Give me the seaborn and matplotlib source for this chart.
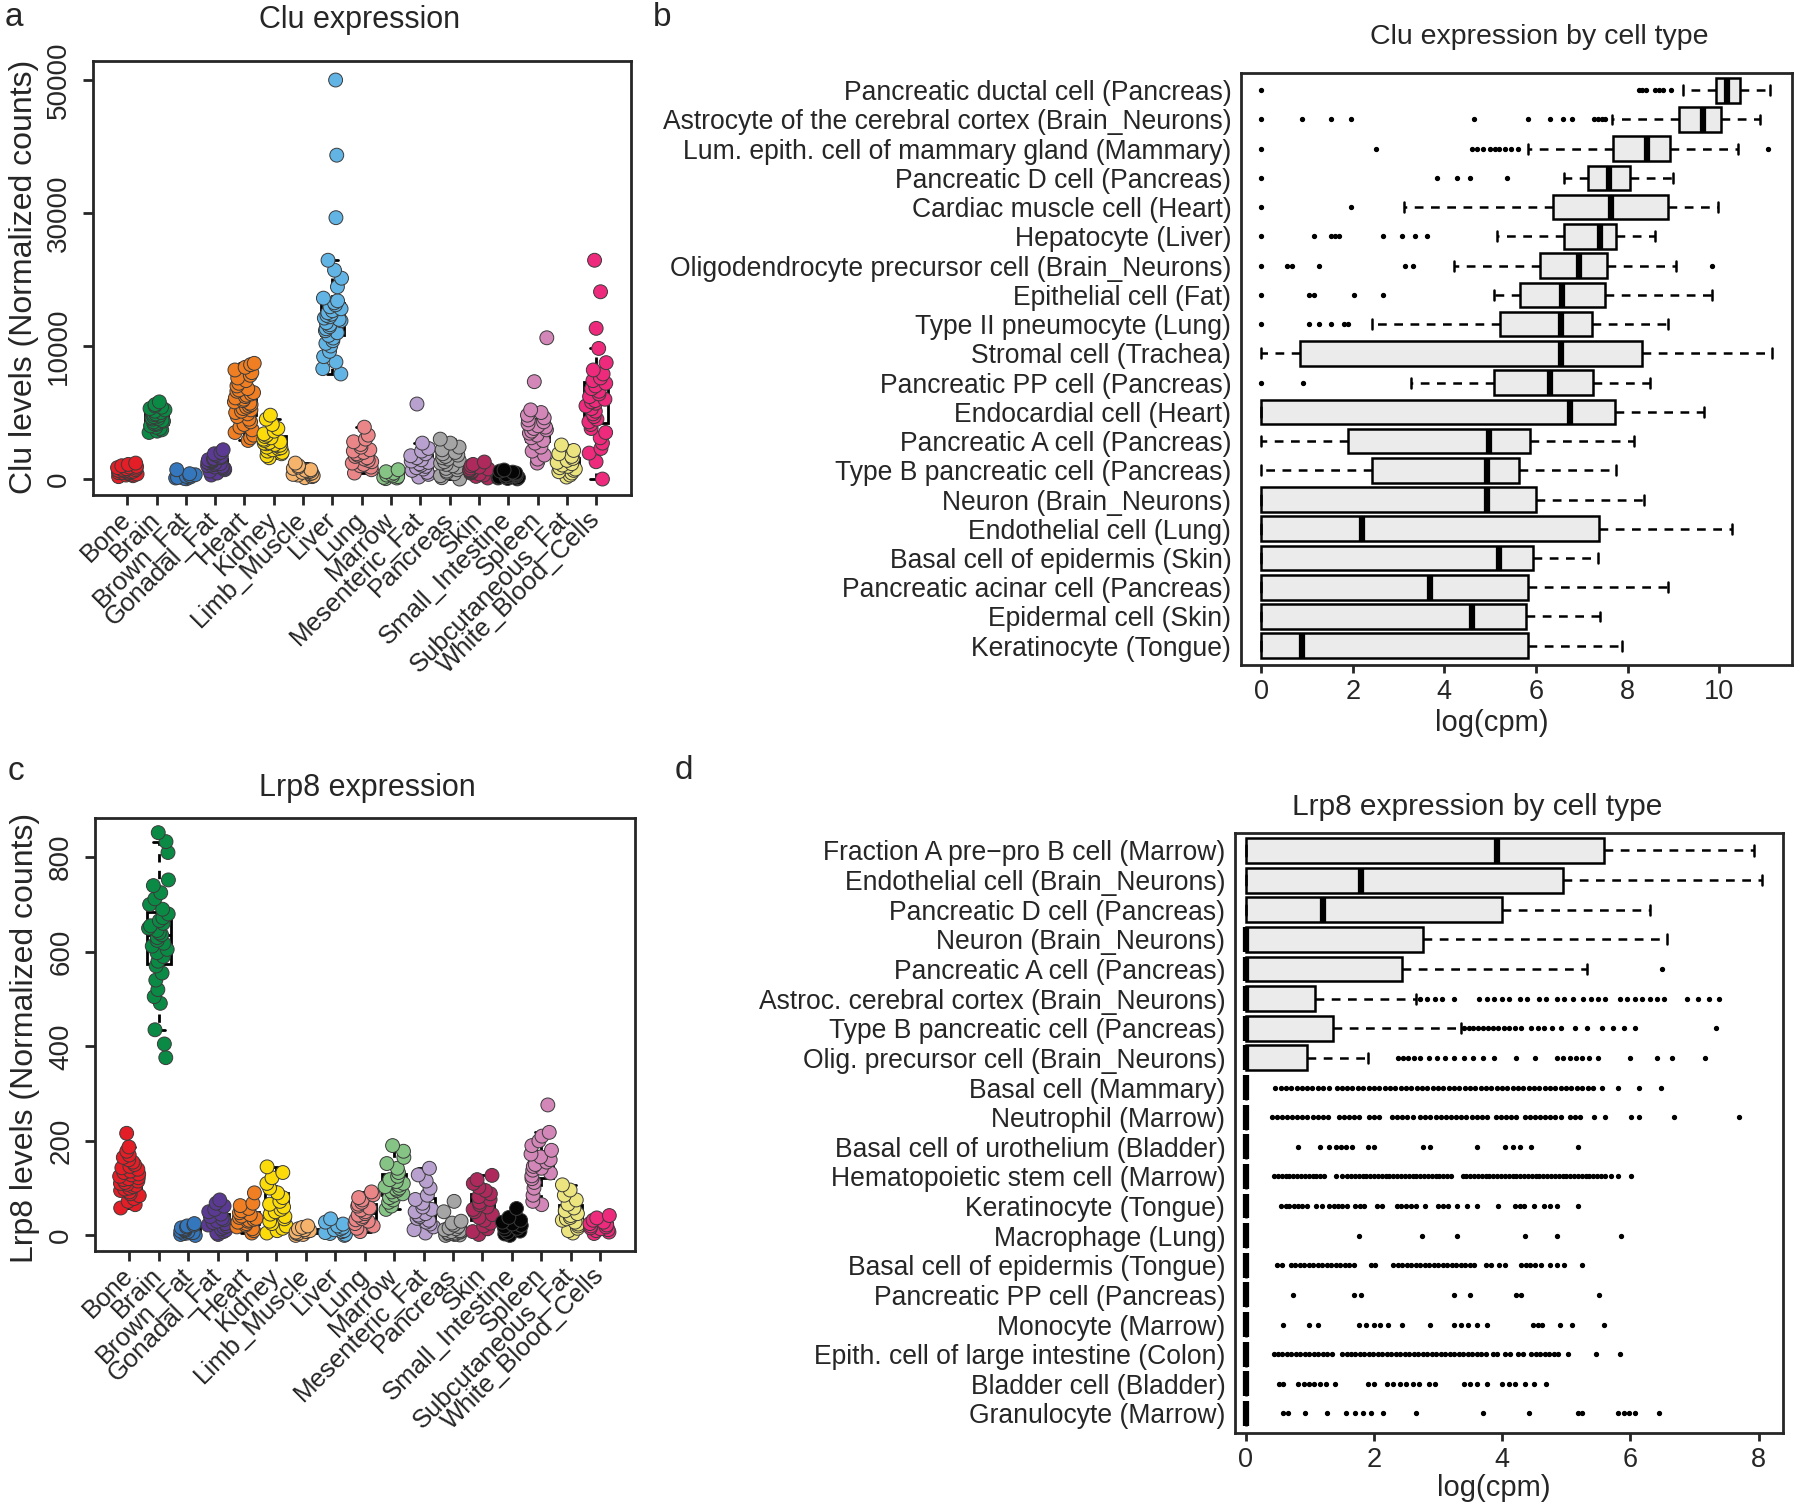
import numpy as np
import pandas as pd
import matplotlib
matplotlib.use("Agg")
import matplotlib.pyplot as plt
import seaborn as sns

# ---- panel a / c : expression by tissue ----
tissues = ["Bone", "Brain", "Brown_Fat", "Gonadal_Fat", "Heart", "Kidney", "Limb_Muscle",
           "Liver", "Lung", "Marrow", "Mesenteric_Fat", "Pancreas", "Skin",
           "Small_Intestine", "Spleen", "Subcutaneous_Fat", "White_Blood_Cells"]
tissue_colors = ["#E41E26", "#0B8A45", "#3477BD", "#5B3A93", "#F07E22", "#FCDB0B", "#F6B36C",
                 "#62B4E4", "#EA8688", "#86C485", "#B8A1CE", "#A5A5A5", "#AE2A5C",
                 "#050505", "#D386B8", "#ECE47E", "#EE2A7C"]

clu_bone = [180, 250, 300, 350, 380, 420, 450, 480, 500, 530, 560, 590, 620, 650, 680, 700, 740, 780, 820, 860, 900, 950, 1000, 1100, 1200]
clu_brain = [3500, 3600, 3700, 3800, 3900, 4000, 4100, 4150, 4200, 4300, 4350, 4400, 4500, 4550, 4600, 4650, 4700, 4800, 4850, 4900, 5000, 5100, 5200, 5300, 5400, 5500, 5600, 5800]
clu_brown_fat = [20, 50, 80, 120, 150, 200, 250, 320, 400, 700]
clu_gonadal_fat = [300, 450, 600, 700, 800, 850, 900, 950, 1000, 1050, 1100, 1150, 1200, 1250, 1300, 1350, 1400, 1450, 1500, 1550, 1600, 1700, 1800, 1900, 2000, 2200]
clu_heart = [2900, 3100, 3300, 3500, 3700, 3900, 4100, 4300, 4500, 4700, 4900, 5000, 5100, 5200, 5300, 5400, 5500, 5600, 5700, 5800, 5900, 6000, 6100, 6200, 6300, 6400, 6500, 6600, 6700, 6800, 7000, 7200, 7400, 7600, 7800, 8000, 8200, 8400, 8600, 8700]
clu_kidney = [1600, 1750, 1900, 2000, 2100, 2200, 2300, 2350, 2400, 2500, 2550, 2600, 2650, 2700, 2750, 2800, 2900, 3000, 3100, 3200, 3300, 3400, 3600, 3800, 4100, 4500, 4800]
clu_limb_muscle = [100, 180, 250, 300, 350, 400, 450, 500, 550, 600, 650, 700, 800, 900, 1000, 1200]
clu_liver = [7900, 8300, 8800, 9200, 9600, 10000, 10400, 10800, 11200, 11600, 12000, 12300, 12600, 12900, 13200, 13500, 13800, 14000, 14200, 14400, 14600, 14800, 15000, 15300, 15600, 15900, 16200, 16500, 16800, 17200, 18900, 20200, 21400, 22900, 29300, 38700, 50000]
clu_lung = [450, 700, 900, 1000, 1100, 1200, 1300, 1400, 1500, 1600, 1700, 1800, 1900, 2000, 2100, 2200, 2400, 2600, 2800, 3000, 3300, 3900]
clu_marrow = [30, 80, 120, 180, 240, 300, 360, 450, 550, 700]
clu_mesenteric_fat = [150, 350, 500, 650, 750, 850, 950, 1050, 1150, 1250, 1350, 1450, 1600, 1750, 1900, 2100, 2300, 2700, 5640]
clu_pancreas = [0, 100, 250, 400, 500, 600, 700, 800, 900, 1000, 1100, 1200, 1300, 1400, 1500, 1600, 1700, 1800, 1900, 2000, 2200, 2400, 2700, 3000]
clu_skin = [80, 200, 300, 380, 450, 500, 550, 600, 650, 700, 760, 820, 900, 1000, 1100, 1280]
clu_small_intestine = [10, 40, 80, 110, 140, 170, 200, 230, 260, 290, 320, 360, 400, 450, 520, 600, 680]
clu_spleen = [1200, 1500, 1800, 2100, 2400, 2700, 2900, 3100, 3300, 3450, 3600, 3700, 3800, 3900, 4000, 4150, 4300, 4450, 4600, 4800, 5000, 5200, 7320, 11240]
clu_subcutaneous_fat = [150, 300, 450, 550, 650, 750, 850, 950, 1050, 1150, 1250, 1400, 1550, 1700, 1900, 2150, 2560]
clu_wbc = [0, 1300, 1950, 2300, 2700, 3100, 3500, 3800, 4100, 4300, 4500, 4700, 4900, 5100, 5300, 5500, 5700, 5800, 5900, 6000, 6200, 6400, 6600, 6800, 7000, 7200, 7400, 7600, 7900, 8200, 8750, 9820, 12660, 18160, 22900]

lrp8_bone = [58, 65, 72, 78, 84, 88, 92, 95, 98, 100, 103, 106, 108, 110, 112, 115, 118, 120, 122, 125, 128, 130, 133, 136, 140, 143, 146, 150, 155, 160, 165, 170, 178, 187, 216]
lrp8_brain = [376, 405, 435, 491, 505, 520, 540, 555, 570, 580, 590, 598, 605, 612, 618, 624, 630, 636, 640, 645, 650, 655, 660, 666, 672, 680, 690, 700, 712, 725, 740, 752, 810, 833, 852]
lrp8_brown_fat = [0, 2, 4, 5, 6, 8, 9, 10, 12, 14, 16, 18, 20, 22, 25]
lrp8_gonadal_fat = [2, 5, 8, 11, 14, 17, 20, 22, 25, 27, 30, 33, 36, 40, 45, 50, 55, 62, 68, 75]
lrp8_heart = [5, 10, 14, 18, 22, 25, 28, 30, 32, 34, 36, 38, 41, 44, 48, 52, 57, 63, 68, 90]
lrp8_kidney = [5, 10, 15, 20, 25, 30, 35, 40, 45, 50, 55, 60, 66, 72, 80, 90, 100, 110, 122, 133, 145]
lrp8_limb_muscle = [0, 2, 4, 5, 7, 8, 10, 12, 14, 17, 20]
lrp8_liver = [0, 2, 4, 6, 8, 10, 12, 14, 17, 20, 24, 28, 35]
lrp8_lung = [8, 15, 20, 25, 30, 33, 36, 40, 43, 46, 50, 54, 58, 62, 66, 70, 75, 80, 86, 92]
lrp8_marrow = [55, 62, 70, 75, 80, 85, 88, 92, 95, 98, 100, 103, 106, 110, 114, 118, 125, 133, 142, 152, 165, 178, 190]
lrp8_mesenteric_fat = [5, 12, 18, 24, 28, 32, 36, 40, 43, 46, 50, 55, 60, 68, 76, 85, 100, 115, 128, 142]
lrp8_pancreas = [0, 1, 2, 3, 4, 5, 6, 7, 8, 9, 10, 12, 14, 16, 19, 22, 26, 30, 50, 72]
lrp8_skin = [2, 8, 14, 20, 26, 32, 38, 44, 50, 55, 60, 65, 70, 76, 82, 88, 95, 102, 110, 118, 127]
lrp8_small_intestine = [0, 3, 6, 9, 12, 15, 18, 21, 24, 28, 32, 38, 57]
lrp8_spleen = [65, 72, 85, 100, 112, 120, 126, 132, 138, 142, 146, 150, 155, 160, 166, 172, 180, 190, 200, 210, 218, 276]
lrp8_subcutaneous_fat = [5, 10, 15, 20, 24, 28, 32, 35, 38, 42, 46, 52, 58, 66, 75, 85, 96, 107]
lrp8_wbc = [4, 7, 10, 12, 14, 16, 18, 20, 22, 25, 28, 32, 37, 42]

clu_by_tissue = [clu_bone, clu_brain, clu_brown_fat, clu_gonadal_fat, clu_heart, clu_kidney,
                 clu_limb_muscle, clu_liver, clu_lung, clu_marrow, clu_mesenteric_fat, clu_pancreas,
                 clu_skin, clu_small_intestine, clu_spleen, clu_subcutaneous_fat, clu_wbc]
lrp8_by_tissue = [lrp8_bone, lrp8_brain, lrp8_brown_fat, lrp8_gonadal_fat, lrp8_heart, lrp8_kidney,
                  lrp8_limb_muscle, lrp8_liver, lrp8_lung, lrp8_marrow, lrp8_mesenteric_fat, lrp8_pancreas,
                  lrp8_skin, lrp8_small_intestine, lrp8_spleen, lrp8_subcutaneous_fat, lrp8_wbc]

# ---- panel b : Clu by cell type (log cpm box summaries) ----
clu_cells = ["Pancreatic ductal cell (Pancreas)", "Astrocyte of the cerebral cortex (Brain_Neurons)",
             "Lum. epith. cell of mammary gland (Mammary)", "Pancreatic D cell (Pancreas)",
             "Cardiac muscle cell (Heart)", "Hepatocyte (Liver)",
             "Oligodendrocyte precursor cell (Brain_Neurons)", "Epithelial cell (Fat)",
             "Type II pneumocyte (Lung)", "Stromal cell (Trachea)", "Pancreatic PP cell (Pancreas)",
             "Endocardial cell (Heart)", "Pancreatic A cell (Pancreas)",
             "Type B pancreatic cell (Pancreas)", "Neuron (Brain_Neurons)", "Endothelial cell (Lung)",
             "Basal cell of epidermis (Skin)", "Pancreatic acinar cell (Pancreas)",
             "Epidermal cell (Skin)", "Keratinocyte (Tongue)"]
clu_whislo = [9.2, 7.67, 5.82, 6.62, 3.12, 5.14, 4.2, 5.09, 2.42, 0, 3.28, 0, 0, 0, 0, 0, 0, 0, 0, 0]
clu_q1 = [9.94, 9.13, 7.69, 7.14, 6.38, 6.62, 6.09, 5.65, 5.22, 0.84, 5.09, 0, 1.9, 2.42, 0, 0, 0, 0, 0, 0]
clu_med = [10.18, 9.64, 8.43, 7.59, 7.63, 7.4, 6.95, 6.56, 6.54, 6.54, 6.3, 6.74, 4.98, 4.93, 4.93, 2.2, 5.2, 3.68, 4.6, 0.89]
clu_q3 = [10.45, 10.05, 8.93, 8.05, 8.89, 7.75, 7.56, 7.51, 7.22, 8.32, 7.24, 7.72, 5.86, 5.62, 6.01, 7.38, 5.93, 5.82, 5.78, 5.82]
clu_whishi = [11.1, 10.9, 10.42, 9.0, 9.98, 8.6, 9.05, 9.85, 8.89, 11.15, 8.48, 9.66, 8.13, 7.75, 8.35, 10.27, 7.35, 8.89, 7.4, 7.87]
clu_outliers = [
    [0, 8.25, 8.32, 8.4, 8.6, 8.68, 8.78, 8.95],
    [0, 0.89, 1.53, 1.97, 4.64, 5.82, 6.3, 6.6, 6.79, 7.27, 7.35, 7.45, 7.51],
    [0, 2.5, 4.6, 4.72, 4.85, 5.0, 5.1, 5.2, 5.32, 5.45, 5.6, 11.07],
    [0, 3.83, 4.28, 4.56, 5.36],
    [0, 1.97],
    [0, 1.16, 1.53, 1.62, 1.7, 2.67, 3.07, 3.36, 3.63],
    [0, 0.57, 0.68, 1.26, 3.15, 3.31, 9.85],
    [0, 1.05, 1.16, 2.02, 2.67],
    [0, 1.05, 1.26, 1.53, 1.8, 1.9],
    [], [0, 0.92], [], [], [], [], [], [], [], [], [],
]

# ---- panel d : Lrp8 by cell type ----
lrp8_cells = ["Fraction A pre\u2212pro B cell (Marrow)", "Endothelial cell (Brain_Neurons)",
              "Pancreatic D cell (Pancreas)", "Neuron (Brain_Neurons)", "Pancreatic A cell (Pancreas)",
              "Astroc. cerebral cortex (Brain_Neurons)", "Type B pancreatic cell (Pancreas)",
              "Olig. precursor cell (Brain_Neurons)", "Basal cell (Mammary)", "Neutrophil (Marrow)",
              "Basal cell of urothelium (Bladder)", "Hematopoietic stem cell (Marrow)",
              "Keratinocyte (Tongue)", "Macrophage (Lung)", "Basal cell of epidermis (Tongue)",
              "Pancreatic PP cell (Pancreas)", "Monocyte (Marrow)",
              "Epith. cell of large intestine (Colon)", "Bladder cell (Bladder)", "Granulocyte (Marrow)"]
lrp8_whislo = [0] * 20
lrp8_q1 = [0] * 20
lrp8_med = [3.91, 1.79, 1.21, 0, 0, 0, 0, 0, 0, 0, 0, 0, 0, 0, 0, 0, 0, 0, 0, 0]
lrp8_q3 = [5.58, 4.95, 4.0, 2.77, 2.43, 1.08, 1.36, 0.96, 0, 0, 0, 0, 0, 0, 0, 0, 0, 0, 0, 0]
lrp8_whishi = [7.92, 8.05, 6.3, 6.57, 5.32, 2.66, 3.35, 1.91, 0, 0, 0, 0, 0, 0, 0, 0, 0, 0, 0, 0]
lrp8_outliers = [
    [], [], [], [],
    [6.49],
    [2.72, 2.83, 2.95, 3.06, 3.24, 3.64, 3.76, 3.87, 3.99, 4.1, 4.28, 4.39, 4.57, 4.68, 4.86, 4.97,
     5.11, 5.26, 5.38, 5.49, 5.61, 5.84, 5.95, 6.07, 6.18, 6.3, 6.42, 6.53, 6.88, 7.05, 7.23, 7.38],
    [3.41, 3.48, 3.55, 3.62, 3.7, 3.78, 3.86, 3.94, 4.02, 4.1, 4.2, 4.3, 4.45, 4.55, 4.65, 4.78,
     4.92, 5.14, 5.32, 5.55, 5.72, 5.9, 6.07, 7.34],
    [2.37, 2.45, 2.53, 2.62, 2.72, 2.85, 2.98, 3.1, 3.24, 3.41, 3.55, 3.7, 3.87, 4.22, 4.51, 4.86,
     4.95, 5.05, 5.15, 5.25, 5.35, 5.49, 5.99, 6.42, 6.65, 7.17],
    [0.46, 0.55, 0.63, 0.71, 0.8, 0.88, 0.95, 1.03, 1.12, 1.2, 1.3, 1.42, 1.5, 1.58, 1.66, 1.75,
     1.83, 1.92, 2.0, 2.08, 2.17, 2.25, 2.33, 2.42, 2.5, 2.58, 2.67, 2.75, 2.83, 2.92, 3.0, 3.08,
     3.17, 3.25, 3.33, 3.42, 3.5, 3.58, 3.67, 3.75, 3.83, 3.92, 4.0, 4.08, 4.17, 4.25, 4.33, 4.42,
     4.5, 4.58, 4.67, 4.75, 4.83, 4.92, 5.0, 5.08, 5.17, 5.25, 5.33, 5.42, 5.55, 5.8, 6.13, 6.47],
    [0.4, 0.48, 0.56, 0.64, 0.72, 0.8, 0.88, 0.96, 1.04, 1.12, 1.2, 1.28, 1.45, 1.53, 1.61, 1.69,
     1.77, 1.92, 2.0, 2.08, 2.28, 2.36, 2.44, 2.52, 2.6, 2.72, 2.8, 2.88, 2.96, 3.04, 3.12, 3.2,
     3.28, 3.36, 3.44, 3.52, 3.6, 3.68, 3.76, 3.9, 3.98, 4.06, 4.14, 4.22, 4.35, 4.43, 4.51, 4.59,
     4.67, 4.75, 4.83, 4.91, 5.05, 5.13, 5.21, 5.43, 5.6, 6.01, 6.13, 6.68, 7.69],
    [0.81, 1.15, 1.3, 1.4, 1.48, 1.56, 1.65, 1.9, 2.0, 2.77, 2.88, 3.6, 4.05, 4.16, 4.28, 4.45, 5.18],
    [0.44, 0.5, 0.56, 0.62, 0.68, 0.74, 0.8, 0.86, 0.92, 0.98, 1.04, 1.1, 1.16, 1.22, 1.4, 1.5,
     1.58, 1.64, 1.7, 1.76, 1.82, 1.88, 1.94, 2.0, 2.06, 2.12, 2.18, 2.24, 2.3, 2.36, 2.42, 2.48,
     2.54, 2.6, 2.66, 2.72, 2.78, 2.84, 2.9, 2.96, 3.02, 3.08, 3.14, 3.2, 3.38, 3.44, 3.5, 3.56,
     3.62, 3.68, 3.74, 3.8, 3.86, 3.92, 3.98, 4.04, 4.1, 4.16, 4.22, 4.28, 4.34, 4.4, 4.46, 4.52,
     4.58, 4.64, 4.7, 4.76, 4.82, 4.88, 4.94, 5.0, 5.06, 5.12, 5.18, 5.24, 5.3, 5.36, 5.42, 5.48,
     5.54, 5.6, 5.7, 5.8, 6.01],
    [0.55, 0.62, 0.68, 0.75, 0.82, 0.88, 0.95, 1.1, 1.18, 1.3, 1.37, 1.44, 1.5, 1.57, 1.7, 1.78,
     1.85, 2.05, 2.12, 2.35, 2.42, 2.5, 2.58, 2.66, 2.8, 3.0, 3.08, 3.15, 3.3, 3.45, 3.6, 3.93,
     4.2, 4.27, 4.34, 4.5, 4.65, 4.75, 4.86, 5.18],
    [1.76, 2.75, 3.29, 4.36, 4.86, 5.86],
    [0.49, 0.56, 0.7, 0.77, 0.84, 0.91, 0.98, 1.05, 1.12, 1.19, 1.26, 1.33, 1.4, 1.47, 1.54, 1.61,
     1.68, 1.95, 2.02, 2.3, 2.37, 2.44, 2.51, 2.58, 2.65, 2.72, 2.79, 2.86, 2.93, 3.0, 3.07, 3.14,
     3.21, 3.28, 3.35, 3.42, 3.49, 3.56, 3.75, 3.82, 3.95, 4.05, 4.3, 4.37, 4.44, 4.51, 4.6, 4.75,
     4.86, 4.97, 5.24],
    [0.73, 1.68, 1.8, 3.24, 3.5, 4.22, 4.3, 5.51],
    [0.58, 0.98, 1.13, 1.76, 1.88, 2.0, 2.1, 2.22, 2.43, 2.87, 3.24, 3.35, 3.47, 3.6, 3.76, 4.48,
     4.55, 4.62, 4.9, 5.09, 5.58],
    [0.44, 0.5, 0.57, 0.64, 0.71, 0.78, 0.85, 0.92, 0.99, 1.06, 1.13, 1.2, 1.27, 1.34, 1.5, 1.57,
     1.64, 1.71, 1.78, 1.85, 1.92, 1.99, 2.06, 2.13, 2.2, 2.27, 2.34, 2.41, 2.48, 2.55, 2.62, 2.69,
     2.76, 2.83, 2.9, 2.97, 3.04, 3.11, 3.18, 3.25, 3.32, 3.39, 3.46, 3.53, 3.6, 3.67, 3.74, 3.85,
     3.92, 4.05, 4.12, 4.25, 4.32, 4.45, 4.52, 4.59, 4.66, 4.73, 4.8, 4.87, 5.03, 5.47, 5.84],
    [0.52, 0.58, 0.81, 0.9, 0.98, 1.06, 1.15, 1.25, 1.39, 1.91, 2.0, 2.2, 2.3, 2.4, 2.5, 2.6, 2.7,
     2.85, 2.95, 3.41, 3.5, 3.6, 3.76, 3.99, 4.1, 4.2, 4.35, 4.5, 4.68],
    [0.58, 0.65, 0.92, 1.27, 1.56, 1.7, 1.82, 1.95, 2.14, 2.66, 3.7, 4.42, 5.18, 5.25, 5.81, 5.9,
     5.98, 6.07, 6.45],
]

sns.set_style("ticks")
plt.rcParams["font.family"] = ["Liberation Sans", "DejaVu Sans"]
plt.rcParams["axes.linewidth"] = 2.0

W, H = 1800, 1504
fig = plt.figure(figsize=(18, 15.04), dpi=100)


def box(x0, y0, x1, y1):
    # pixel box (top-left origin) -> figure fraction rect
    return [x0 / W, 1 - y1 / H, (x1 - x0) / W, (y1 - y0) / H]


def long_table(values):
    rows = [(t, v) for t, vals in zip(tissues, values) for v in vals]
    return pd.DataFrame(rows, columns=["tissue", "level"])


# the Clu axis is stretched below 10000 (0, 10000, 30000, 50000 are evenly spaced)
def fwd(y):
    y = np.asarray(y, dtype=float)
    return np.where(y <= 10000, y, 10000 + (y - 10000) / 2)


def inv(d):
    d = np.asarray(d, dtype=float)
    return np.where(d <= 10000, d, 10000 + (d - 10000) * 2)


def tissue_panel(ax, values):
    df = long_table(values)
    sns.boxplot(data=df, x="tissue", y="level", order=tissues, color="white", linecolor="black",
                linewidth=2, width=0.8, showfliers=False, whis=1.5,
                whiskerprops={"linestyle": (0, (3, 3))}, ax=ax)
    np.random.seed(7)
    sns.stripplot(data=df, x="tissue", y="level", order=tissues, hue="tissue", hue_order=tissues,
                  palette=dict(zip(tissues, tissue_colors)), legend=False, jitter=0.35, size=10,
                  edgecolor="#3a3a3a", linewidth=0.7, ax=ax, zorder=3)
    ax.set_xlim(-1.17, 17.19)
    ax.set_xlabel("")
    ax.set_ylabel("")
    ax.set_xticks(range(len(tissues)))
    ax.set_xticklabels(tissues, rotation=45, ha="right", va="center", rotation_mode="anchor",
                       fontsize=18.5)
    ax.tick_params(axis="both", length=7, width=2, direction="out", pad=8, labelsize=20)
    ax.tick_params(axis="x", labelsize=18.5)
    for s in ax.spines.values():
        s.set_visible(True)
        s.set_linewidth(2)


# a
ax_a = fig.add_axes(box(93, 61, 631, 495))
tissue_panel(ax_a, clu_by_tissue)
ax_a.set_yscale("function", functions=(fwd, inv))
ax_a.set_ylim(-1200, 52860)
ax_a.set_yticks([0, 10000, 30000, 50000], labels=["0", "10000", "30000", "50000"],
                rotation=90, va="center", fontsize=20)

# c
ax_c = fig.add_axes(box(95, 818, 635, 1251))
tissue_panel(ax_c, lrp8_by_tissue)
ax_c.set_ylim(-33, 883)
ax_c.set_yticks([0, 200, 400, 600, 800], labels=["0", "200", "400", "600", "800"],
                rotation=90, va="center", fontsize=20)


def cell_panel(ax, names, whislo, q1, med, q3, whishi, outliers, xlim, xticks):
    stats = []
    for i in range(len(names)):
        stats.append(dict(label=names[i], whislo=whislo[i], q1=q1[i], med=med[i], q3=q3[i],
                          whishi=whishi[i], fliers=np.array(outliers[i], dtype=float)))
    ax.bxp(stats, positions=range(len(names)), widths=0.84, orientation="horizontal",
           patch_artist=True, manage_ticks=False, capwidths=0.34,
           boxprops=dict(facecolor="#EBEBEB", edgecolor="black", linewidth=1.8),
           medianprops=dict(color="black", linewidth=4.5, solid_capstyle="butt"),
           whiskerprops=dict(color="black", linewidth=1.8, linestyle=(0, (3.5, 3))),
           capprops=dict(color="black", linewidth=1.8),
           flierprops=dict(marker="o", markersize=2.8, markerfacecolor="black",
                           markeredgecolor="black", linestyle="none"))
    ax.set_yticks(range(len(names)))
    ax.set_yticklabels(names, fontsize=19.1)
    ax.set_ylim(len(names) - 1 + 0.66, -0.59)
    ax.set_xlim(*xlim)
    ax.set_xticks(xticks)
    ax.tick_params(axis="y", length=0, pad=7)
    ax.tick_params(axis="x", length=6, width=2, pad=4, labelsize=19.5)
    ax.set_xlabel("")
    for s in ax.spines.values():
        s.set_visible(True)
        s.set_linewidth(2)


# b
ax_b = fig.add_axes(box(1241, 73, 1792, 665))
cell_panel(ax_b, clu_cells, clu_whislo, clu_q1, clu_med, clu_q3, clu_whishi, clu_outliers,
           (-0.44, 11.59), [0, 2, 4, 6, 8, 10])

# d
ax_d = fig.add_axes(box(1235, 833, 1783, 1433))
cell_panel(ax_d, lrp8_cells, lrp8_whislo, lrp8_q1, lrp8_med, lrp8_q3, lrp8_whishi, lrp8_outliers,
           (-0.17, 8.38), [0, 2, 4, 6, 8])


def ftext(x, y, s, **kw):
    fig.text(x / W, 1 - y / H, s, ha="center", va="center", **kw)


ftext(360, 20, "Clu expression", fontsize=22)
ftext(367, 788, "Lrp8 expression", fontsize=22)
ftext(1539, 37, "Clu expression by cell type", fontsize=20.5)
ftext(1477, 807, "Lrp8 expression by cell type", fontsize=21.5)
ftext(1492, 723, "log(cpm)", fontsize=21)
ftext(1494, 1488, "log(cpm)", fontsize=21)
ftext(24, 277, "Clu levels (Normalized counts)", fontsize=23, rotation=90)
ftext(25, 1038, "Lrp8 levels (Normalized counts)", fontsize=23, rotation=90)
ftext(14, 18, "a", fontsize=24)
ftext(662, 18, "b", fontsize=24)
ftext(16, 772, "c", fontsize=24)
ftext(684, 770, "d", fontsize=24)

fig.savefig("out.png", dpi=100, facecolor="white")
